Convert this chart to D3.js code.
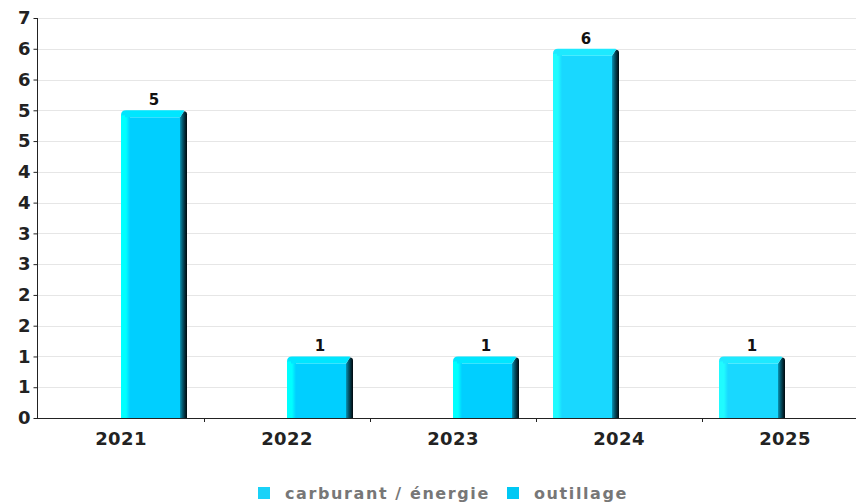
<!DOCTYPE html>
<html><head><meta charset="utf-8">
<script src="https://cdn.jsdelivr.net/npm/d3@7/dist/d3.min.js"></script>
<style>body{margin:0;background:#fff}svg{display:block}</style>
</head><body>
<svg id="c" width="856" height="504"></svg>
<script>
const categories = ["2021","2022","2023","2024","2025"];
const seriesNames = ["carburant / énergie","outillage"];
const carburant = [0,0,0,6,1];
const outillage = [5,1,1,0,0];
const yTicks = d3.range(0, 6.51, 0.5);

const svg = d3.select("#c");
const W = 856, H = 504;
const m = {left:38, top:18, bottom:418, right:868};
const x = d3.scaleBand().domain(categories).range([m.left, m.right]).padding(0);
const xs = d3.scaleBand().domain(seriesNames).range([17, 149]).padding(0);
const y = d3.scaleLinear().domain([0, 6.5]).range([m.bottom, m.top]);

const faces = {"carburant / énergie":"#19d8ff","outillage":"#00cfff"};
const highs = {"carburant / énergie":"#20fbff","outillage":"#00ffff"};
const caps = {"carburant / énergie":"#1ee9ff","outillage":"#00e6ff"};
const legendCol = {"carburant / énergie":"#19d2f8","outillage":"#00c8f4"};

const defs = svg.append("defs");
seriesNames.forEach((s,i)=>{
  const gl = defs.append("linearGradient").attr("id","gl"+i).attr("x1","0").attr("x2","1");
  gl.append("stop").attr("offset","0").attr("stop-color",highs[s]);
  gl.append("stop").attr("offset","0.55").attr("stop-color",highs[s]);
  gl.append("stop").attr("offset","1").attr("stop-color",faces[s]);
  const gr = defs.append("linearGradient").attr("id","gr"+i).attr("x1","0").attr("x2","1");
  gr.append("stop").attr("offset","0").attr("stop-color","#0894b4");
  gr.append("stop").attr("offset","0.35").attr("stop-color","#045a70");
  gr.append("stop").attr("offset","0.7").attr("stop-color","#022a36");
  gr.append("stop").attr("offset","1").attr("stop-color","#00080c");
});

// gridlines
svg.append("g").selectAll("line").data(yTicks.filter(d=>d>0)).join("line")
  .attr("x1", m.left).attr("x2", W).attr("y1", d=>Math.round(y(d))+0.5).attr("y2", d=>Math.round(y(d))+0.5)
  .attr("stroke","#e6e6e6").attr("stroke-width",1);

// bars
const data = [];
categories.forEach((c,ci)=>{
  [carburant[ci], outillage[ci]].forEach((v,si)=>{
    if (v>0) data.push({c, s:seriesNames[si], si, v});
  });
});
const g = svg.append("g");
data.forEach(d=>{
  const x0 = x(d.c) + xs(d.s), bw = xs.bandwidth(), x1 = x0 + bw;
  const yt = y(d.v), yb = y(0);
  const r = 5, ch = 7, sw = 7, lw = 9;
  const bg = g.append("g");
  bg.append("rect").attr("x",x0).attr("y",yt+ch).attr("width",bw).attr("height",yb-yt-ch).attr("fill",faces[d.s]);
  bg.append("rect").attr("x",x0).attr("y",yt+r).attr("width",lw).attr("height",yb-yt-r).attr("fill",`url(#gl${d.si})`);
  // right dark side
  bg.append("path").attr("d",
    `M${x1-sw},${yt+ch} L${x1-3},${yt+1} Q${x1},${yt+1} ${x1},${yt+4} L${x1},${yb} L${x1-sw},${yb} Z`)
    .attr("fill",`url(#gr${d.si})`);
  // top cap
  bg.append("path").attr("d",
    `M${x0},${yt+ch} L${x0},${yt+r} Q${x0},${yt} ${x0+r},${yt} L${x1-4},${yt} Q${x1-2},${yt} ${x1-3},${yt+1} L${x1-sw},${yt+ch} Z`)
    .attr("fill",caps[d.s]);
  bg.append("rect").attr("x",x0).attr("y",yt+r).attr("width",4).attr("height",ch-r+2).attr("fill",highs[d.s]);
  g.append("text").attr("x",x0+bw/2).attr("y",yt-5).attr("text-anchor","middle")
    .attr("font-family","DejaVu Sans").attr("font-weight","bold").attr("font-size",15).attr("fill","#111")
    .text(d.v);
});

// y axis
const ya = svg.append("g").attr("transform",`translate(${m.left-0.5},0)`)
  .call(d3.axisLeft(y).tickValues(yTicks).tickFormat(d=>Math.round(d)).tickSize(4).tickPadding(3));
ya.select(".domain").attr("stroke","#222").attr("d",`M0,${m.top}V${m.bottom}`);
ya.selectAll(".tick line").attr("stroke","#222");
ya.selectAll("text").attr("font-family","DejaVu Sans").attr("font-weight","bold").attr("font-size",18).attr("fill","#222");

// x axis
svg.append("line").attr("x1",m.left-4).attr("x2",W).attr("y1",m.bottom+0.5).attr("y2",m.bottom+0.5).attr("stroke","#222");
svg.append("g").selectAll("line").data(categories.slice(1)).join("line")
  .attr("x1",d=>x(d)+0.5).attr("x2",d=>x(d)+0.5).attr("y1",m.bottom).attr("y2",m.bottom+4).attr("stroke","#222");
svg.append("g").selectAll("text").data(categories).join("text")
  .attr("x",d=>x(d)+x.bandwidth()/2).attr("y",445).attr("text-anchor","middle")
  .attr("font-family","DejaVu Sans").attr("font-weight","bold").attr("font-size",18).attr("letter-spacing",0.4).attr("fill","#222")
  .text(d=>d);

// legend
const lg = svg.append("g");
const legX = [258, 507];
seriesNames.forEach((s,i)=>{
  lg.append("rect").attr("x",legX[i]).attr("y",487).attr("width",12).attr("height",12).attr("fill",legendCol[s]);
  lg.append("text").attr("x",legX[i]+27).attr("y",499)
    .attr("font-family","DejaVu Sans").attr("font-weight","bold").attr("font-size",16).attr("letter-spacing",1.6).attr("fill","#777")
    .text(s);
});
</script>
</body></html>
